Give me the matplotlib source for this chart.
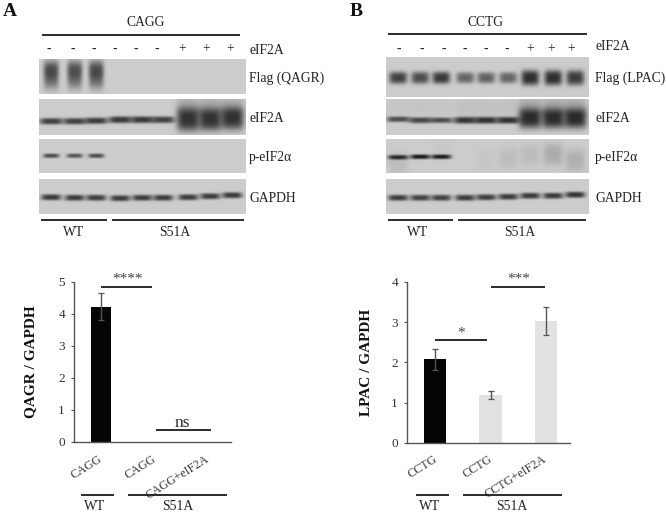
import matplotlib
matplotlib.use("Agg")
import matplotlib.pyplot as plt
import numpy as np

plt.rcParams['font.family'] = ['Liberation Serif', 'DejaVu Serif']

# eIF2A row, lanes left to right
signs = ['-', '-', '-', '-', '-', '-', '+', '+', '+']

a_flag_dark = [0.55, 0.52, 0.55, 0, 0, 0, 0, 0, 0]
a_flag_thick = [14, 14, 14, 1, 1, 1, 1, 1, 1]
a_flag_core = [0.22, 0.22, 0.22, 0, 0, 0, 0, 0, 0]
a_eif_dark = [0.68, 0.68, 0.70, 0.72, 0.72, 0.68, 0.74, 0.74, 0.74]
a_eif_thick = [3.2, 3.2, 3.2, 3.4, 3.4, 3.4, 12, 11.5, 11.5]
a_eif_halo = [0, 0, 0, 0, 0, 0, 0.15, 0.15, 0.15]
a_peif_dark = [0.62, 0.58, 0.62, 0, 0, 0, 0, 0, 0]
a_peif_thick = [2.2, 2.2, 2.2, 1, 1, 1, 1, 1, 1]
a_gapdh_dark = [0.72, 0.7, 0.7, 0.7, 0.7, 0.7, 0.7, 0.7, 0.72]
a_gapdh_thick = [3, 3, 3, 3, 3, 3, 3, 3, 3]

b_flag_dark = [0.68, 0.62, 0.72, 0.5, 0.52, 0.5, 0.78, 0.78, 0.70]
b_flag_thick = [6, 6, 6, 5.5, 5.5, 5.5, 7.5, 7.5, 7.5]
b_eif_dark = [0.62, 0.65, 0.62, 0.74, 0.76, 0.76, 0.78, 0.78, 0.78]
b_eif_thick = [2.8, 3, 2.8, 3.4, 3.4, 3.4, 10, 10, 10]
b_eif_halo = [0.03, 0.03, 0.03, 0.05, 0.05, 0.05, 0.18, 0.18, 0.18]
b_peif_dark = [0.8, 0.88, 0.86, 0, 0, 0, 0, 0, 0]
b_peif_thick = [2.3, 2.3, 2.3, 1, 1, 1, 1, 1, 1]
b_peif_smear = [0.08, 0, 0.02, 0, 0.03, 0.07, 0.08, 0.16, 0.14]
b_gapdh_dark = [0.7, 0.68, 0.68, 0.7, 0.7, 0.7, 0.72, 0.72, 0.75]
b_gapdh_thick = [3, 3, 3, 3, 3, 3, 3, 3, 3]

# quantification
a_labels = ['CAGG', 'CAGG', 'CAGG+eIF2A']
a_values = [4.22, 0.0, 0.0]
a_err_low = [0.40, 0, 0]
a_err_high = [0.43, 0, 0]
b_labels = ['CCTG', 'CCTG', 'CCTG+eIF2A']
b_values = [2.08, 1.19, 3.04]
b_err_low = [0.27, 0.11, 0.35]
b_err_high = [0.24, 0.10, 0.33]
bar_colors = ['#050505', '#e2e2e2', '#e2e2e2']

W, H = 666, 513
BG = 0.80


def blot(ax, left, right, top, bottom, lanes, layers, width=8.5):
    """One blot strip as a little grayscale image. layers: (dark, half height, y centre)"""
    xx, yy = np.meshgrid(np.arange(left, right, 0.5), np.arange(top, bottom, 0.5))
    img = np.full(xx.shape, BG)
    for dark, thick, ycen in layers:
        for i, xc in enumerate(lanes):
            yc = ycen[i] if np.ndim(ycen) else ycen
            th = thick[i] if np.ndim(thick) else thick
            band = np.exp(-np.abs((xx - xc) / width) ** 4) * np.exp(-np.abs((yy - yc) / th) ** 3)
            img = img * (1 - dark[i] * band)
    ax.imshow(img, extent=(left, right, bottom, top), cmap='gray', vmin=0, vmax=1,
              aspect='auto', interpolation='bilinear', zorder=1)


def rule(ax, x0, x1, y, lw=1.3):
    ax.plot([x0, x1], [y, y], color='#1a1a1a', lw=lw, solid_capstyle='butt', zorder=3)


def bars(pos, xlim, ylim, yticks, labels, values, low, high, width, ylabel, ylab_x):
    ax = fig.add_axes([pos[0] / W, 1 - pos[1] / H, (pos[2] - pos[0]) / W, (pos[1] - pos[3]) / H])
    ax.patch.set_alpha(0)
    x = np.arange(len(values))
    ax.bar(x, values, width=width, color=bar_colors)
    for i in x:
        if values[i] > 0:
            ax.errorbar(i, values[i], yerr=[[low[i]], [high[i]]], color='#555555',
                        capsize=2, lw=1, capthick=0.9)
    ax.set_xlim(*xlim)
    ax.set_ylim(*ylim)
    ax.set_yticks(yticks)
    ax.set_xticks([])
    ax.tick_params(axis='y', length=2, width=0.8, color='#555555', labelsize=9.5,
                   labelcolor='#333333', pad=4.5)
    for s in ['top', 'right']:
        ax.spines[s].set_visible(False)
    for s in ['left', 'bottom']:
        ax.spines[s].set_color('#555555')
        ax.spines[s].set_linewidth(1)
    over.text(ylab_x, (pos[1] + pos[3]) / 2, ylabel, rotation=90, fontsize=11, fontweight='bold',
              ha='center', va='center', color='#111111')
    return ax


fig = plt.figure(figsize=(W / 100, H / 100), dpi=100)
over = fig.add_axes([0, 0, 1, 1])

# panel A blots
lanes_a = [51, 74.5, 96, 120, 142, 163, 188, 210, 232]
signs_a = [48.7, 73, 94, 115, 136, 157, 182, 206, 230]
blot(over, 39, 246, 59, 94, lanes_a,
     [(a_flag_dark, a_flag_thick, 74), (a_flag_core, 7, 70)], width=7.5)
blot(over, 39, 246, 99, 135, lanes_a,
     [(a_eif_dark, a_eif_thick, [121, 121, 120.5, 119.5, 119.5, 119.5, 119, 119, 118]),
      (a_eif_halo, 12, 106)], width=11.5)
blot(over, 39, 246, 139, 173, lanes_a, [(a_peif_dark, a_peif_thick, 155.5)], width=8)
blot(over, 39, 246, 179, 214, lanes_a,
     [(a_gapdh_dark, a_gapdh_thick, [197, 197.5, 197.5, 198, 197.5, 197.5, 197, 196, 195])], width=10)

# panel B blots
lanes_b = [398, 420, 441, 465, 486, 508, 530, 553, 575]
signs_b = [399, 422, 444, 465, 486, 507, 530, 551, 571]
blot(over, 386, 589, 57, 97, lanes_b, [(b_flag_dark, b_flag_thick, 77.5)], width=9)
blot(over, 386, 589, 99, 135, lanes_b,
     [(b_eif_dark, b_eif_thick, [119, 120, 120, 120, 120, 120, 118, 118, 118]),
      (b_eif_halo, 10, 107)], width=11.5)
blot(over, 386, 589, 139, 173, lanes_b,
     [(b_peif_dark, b_peif_thick, [157, 156.5, 156.5, 156, 156, 156, 158, 154, 158]),
      (b_peif_smear, 11, [163, 150, 145, 160, 160, 158, 155, 154, 160])], width=10)
blot(over, 386, 589, 179, 214, lanes_b,
     [(b_gapdh_dark, b_gapdh_thick, [197.5, 197.5, 197.5, 197.5, 197, 196.5, 195.5, 195.5, 194.5])], width=10)

fs = 9.8
ink = '#222222'
# panel A text
over.text(3, 12, 'A', fontsize=14, fontweight='bold', va='center', ha='left', color='#111111')
over.text(146, 23, 'CAGG', fontsize=fs, ha='center', va='center', color=ink)
rule(over, 42, 240, 35)
for xs, s in zip(signs_a, signs):
    over.text(xs, 49, s, fontsize=fs, ha='center', va='center', color=ink)
over.text(249, 50, 'eIF2A', fontsize=fs, va='center', color=ink)
over.text(249, 78, 'Flag (QAGR)', fontsize=fs, va='center', color=ink)
over.text(249, 119, 'eIF2A', fontsize=fs, va='center', color=ink)
over.text(249, 157, 'p-eIF2α', fontsize=fs, va='center', color=ink)
over.text(249, 198, 'GAPDH', fontsize=fs, va='center', color=ink)
rule(over, 41, 107, 220)
rule(over, 112, 244, 220)
over.text(74, 232, 'WT', fontsize=fs, ha='center', va='center', color=ink)
over.text(175, 233, 'S51A', fontsize=fs, ha='center', va='center', color=ink)

# panel B text
over.text(350, 11, 'B', fontsize=14, fontweight='bold', va='center', ha='left', color='#111111')
over.text(485, 23, 'CCTG', fontsize=fs, ha='center', va='center', color=ink)
rule(over, 388, 587, 34)
for xs, s in zip(signs_b, signs):
    over.text(xs, 49, s, fontsize=fs, ha='center', va='center', color=ink)
over.text(595, 47, 'eIF2A', fontsize=fs, va='center', color=ink)
over.text(595, 78, 'Flag (LPAC)', fontsize=fs, va='center', color=ink)
over.text(595, 119, 'eIF2A', fontsize=fs, va='center', color=ink)
over.text(595, 157, 'p-eIF2α', fontsize=fs, va='center', color=ink)
over.text(595, 198, 'GAPDH', fontsize=fs, va='center', color=ink)
rule(over, 388, 453, 220)
rule(over, 458, 586, 220)
over.text(418, 232, 'WT', fontsize=fs, ha='center', va='center', color=ink)
over.text(520, 233, 'S51A', fontsize=fs, ha='center', va='center', color=ink)

# bar charts
bars((74, 442, 231, 282), (-0.486, 2.34), (0, 5), range(6), a_labels, a_values,
     a_err_low, a_err_high, 0.37, 'QAGR / GAPDH', 31)
bars((407, 442.7, 570, 282), (-0.505, 2.43), (0, 4), range(5), b_labels, b_values,
     b_err_low, b_err_high, 0.40, 'LPAC / GAPDH', 367)

# significance marks
rule(over, 101, 152, 287)
over.text(127.5, 279, '****', fontsize=11, ha='center', va='center', color='#444444')
rule(over, 156, 211, 430)
over.text(182.5, 423, 'ns', fontsize=12.5, ha='center', va='center', color=ink)
rule(over, 435, 487, 340)
over.text(461, 333, '*', fontsize=11, ha='center', va='center', color='#444444')
rule(over, 491, 545, 287)
over.text(519, 279, '***', fontsize=11, ha='center', va='center', color='#444444')

# rotated category labels, group rules
for xr, s in zip([98, 152, 205], a_labels):
    over.text(xr, 453, s, rotation=32, rotation_mode='anchor', fontsize=8.7,
              ha='right', va='top', color='#333333')
for xr, s in zip([433, 488, 542], b_labels):
    over.text(xr, 453, s, rotation=32, rotation_mode='anchor', fontsize=8.7,
              ha='right', va='top', color='#333333')
rule(over, 81, 114, 495)
rule(over, 128, 227, 495)
over.text(95, 507, 'WT', fontsize=fs, ha='center', va='center', color=ink)
over.text(178, 507, 'S51A', fontsize=fs, ha='center', va='center', color=ink)
rule(over, 416, 449, 495)
rule(over, 463, 562, 495)
over.text(430, 507, 'WT', fontsize=fs, ha='center', va='center', color=ink)
over.text(512, 507, 'S51A', fontsize=fs, ha='center', va='center', color=ink)

over.set_xlim(0, W)
over.set_ylim(H, 0)
over.axis('off')

fig.savefig('out.png', dpi=100)
